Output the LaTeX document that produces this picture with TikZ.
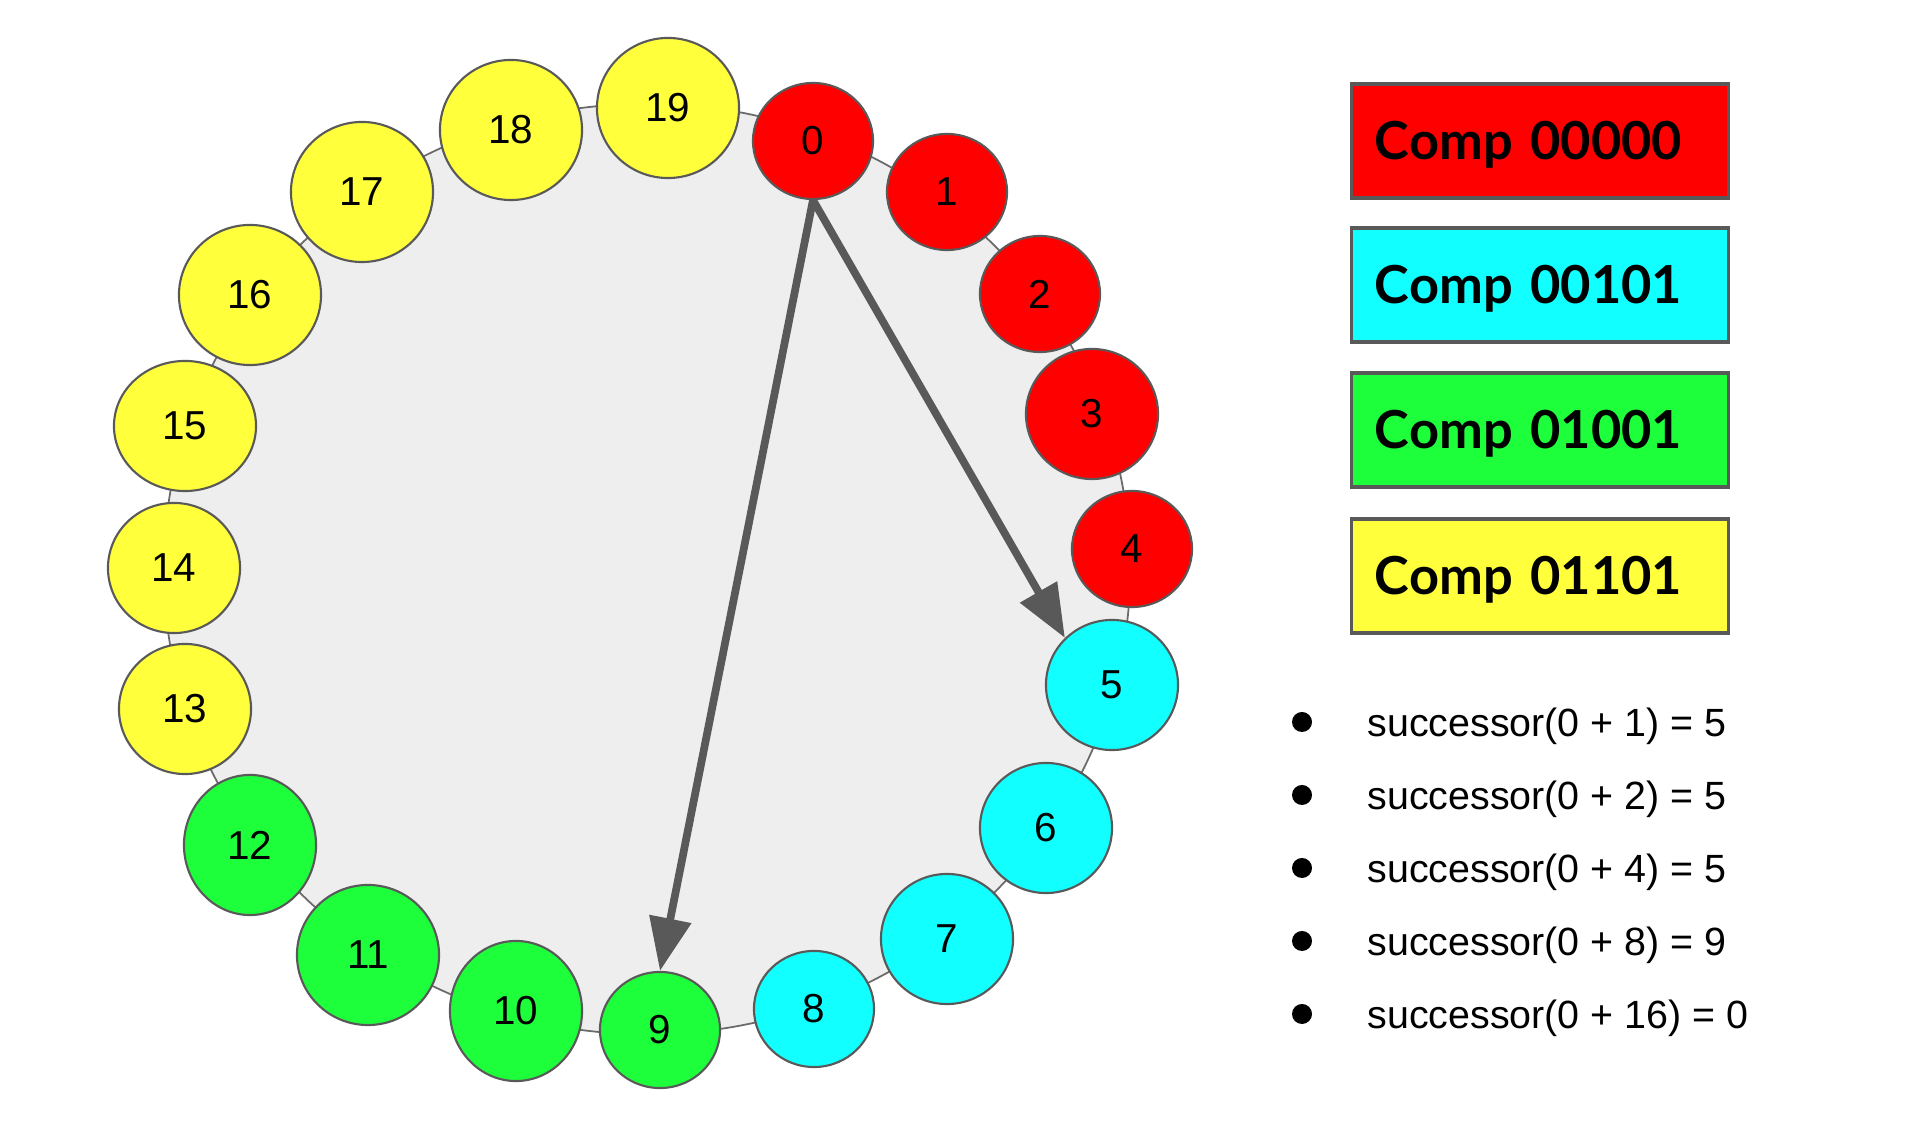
\documentclass[tikz,border=0pt]{standalone}
\usepackage{fontspec}
\setmainfont{Liberation Sans}
\newfontfamily\legendfont{Lato}
\usepackage{tikz}
\usepackage{xcolor}
\usetikzlibrary{arrows.meta, positioning, shapes.geometric}

\definecolor{compred}{HTML}{FF0000}
\definecolor{compcyan}{HTML}{12FFFF}
\definecolor{compgreen}{HTML}{1EFF3C}
\definecolor{compyellow}{HTML}{FFFF3C}
\definecolor{ringfill}{HTML}{EEEEEE}
\definecolor{edgegray}{HTML}{595959}

\tikzset{
    peer/.style={ellipse, draw=edgegray, line width=0.6pt, inner sep=0pt, font=\fontsize{11.5}{13}\selectfont},
    sml/.style={minimum width=1.2cm, minimum height=1.16cm},
    mid/.style={minimum width=1.32cm, minimum height=1.3cm},
    tall/.style={minimum width=1.32cm, minimum height=1.4cm},
    wide/.style={minimum width=1.42cm, minimum height=1.3cm},
    big/.style={minimum width=1.42cm, minimum height=1.4cm},
    legend/.style={rectangle, draw=edgegray, line width=0.9pt, minimum width=3.76cm, minimum height=1.14cm, text width=3.3cm, inner xsep=0.23cm, text height=0.37cm, text depth=0pt, align=left, font=\legendfont\bfseries\fontsize{14.9}{17}\selectfont},
    dot/.style={circle, fill=black, inner sep=0pt, minimum size=0.2cm},
    succ/.style={inner sep=0pt, text height=0.29cm, text depth=0pt, anchor=west, font=\fontsize{11.2}{13}\selectfont},
    finger/.style={-{Triangle[length=5.3mm, width=4.1mm]}, line width=2.2pt, draw=edgegray}
}

\begin{document}
\begin{tikzpicture}[x=0.01cm, y=-0.01cm]
    \useasboundingbox (0,0) rectangle (1920,1122);

    % Ring
    \draw[fill=ringfill, draw=edgegray!90, line width=0.5pt] (647,569) ellipse [x radius=4.83cm, y radius=4.65cm];

    % Peers
    \node[peer, sml, fill=compred] (n0) at (813,141) {0};
    \node[peer, sml, fill=compred] (n1) at (947,192) {1};
    \node[peer, sml, fill=compred] (n2) at (1040,294) {2};
    \node[peer, mid, fill=compred] (n3) at (1092,414) {3};
    \node[peer, sml, fill=compred] (n4) at (1132,549) {4};
    \node[peer, mid, fill=compcyan] (n5) at (1112,685) {5};
    \node[peer, mid, fill=compcyan] (n6) at (1046,828) {6};
    \node[peer, mid, fill=compcyan] (n7) at (947,939) {7};
    \node[peer, sml, fill=compcyan] (n8) at (814,1009) {8};
    \node[peer, sml, fill=compgreen] (n9) at (660,1030) {9};
    \node[peer, tall, fill=compgreen] (n10) at (516,1011) {10};
    \node[peer, big, fill=compgreen] (n11) at (368,955) {11};
    \node[peer, tall, fill=compgreen] (n12) at (250,845) {12};
    \node[peer, mid, fill=compyellow] (n13) at (185,709) {13};
    \node[peer, mid, fill=compyellow] (n14) at (174,568) {14};
    \node[peer, wide, fill=compyellow] (n15) at (185,426) {15};
    \node[peer, big, fill=compyellow] (n16) at (250,295) {16};
    \node[peer, big, fill=compyellow] (n17) at (362,192) {17};
    \node[peer, big, fill=compyellow] (n18) at (511,130) {18};
    \node[peer, big, fill=compyellow] (n19) at (668,108) {19};

    % Fingers
    \draw[finger] (n0.south) -- (n5.135);
    \draw[finger] (n0.south) -- (n9.north);

    % Legend
    \node[legend, fill=compred] (legred) at (1540,141) {Comp 00000};
    \node[legend, fill=compcyan] (legcyan) at (1540,285) {Comp 00101};
    \node[legend, fill=compgreen] (leggreen) at (1540,430) {Comp 01001};
    \node[legend, fill=compyellow] (legyellow) at (1540,576) {Comp 01101};

    % Successors
    \node[dot] (b1) at (1302,722) {};
    \node[dot] (b2) at (1302,795) {};
    \node[dot] (b3) at (1302,868) {};
    \node[dot] (b4) at (1302,941) {};
    \node[dot] (b5) at (1302,1014) {};
    \node[succ, right=0.54cm of b1] (s1) {successor(0 + 1) = 5};
    \node[succ, right=0.54cm of b2] (s2) {successor(0 + 2) = 5};
    \node[succ, right=0.54cm of b3] (s3) {successor(0 + 4) = 5};
    \node[succ, right=0.54cm of b4] (s4) {successor(0 + 8) = 9};
    \node[succ, right=0.54cm of b5] (s5) {successor(0 + 16) = 0};
\end{tikzpicture}
\end{document}
